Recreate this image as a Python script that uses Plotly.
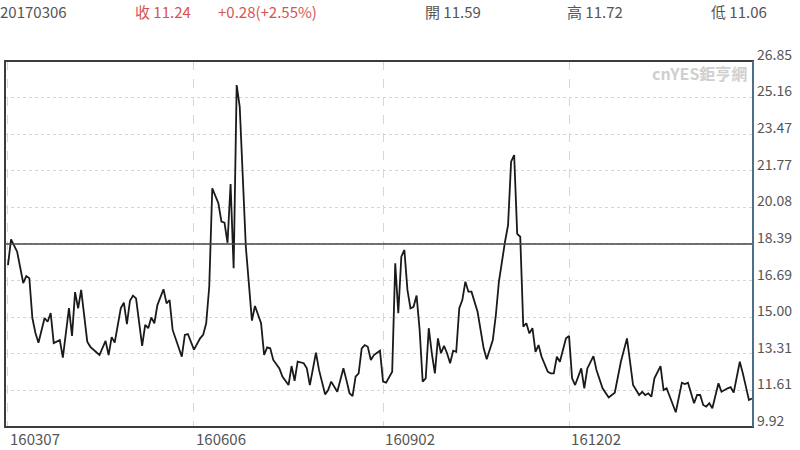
import plotly.graph_objects as go

# ---- data (trading-day index since 2016-03-07, value) ----
days = [0, 1, 3, 5, 6, 7, 8, 9, 10, 12, 13, 14, 15, 17, 18, 20, 21, 22, 23, 24, 26, 27, 30, 32, 33, 34, 35,
        37, 38, 39, 40, 41, 42, 43, 44, 45, 46, 47, 48, 49, 51, 52, 53, 54, 57, 58, 59, 61, 63, 64, 65, 66,
        67, 69, 70, 71, 72, 73, 74, 75, 76, 78, 79, 80, 81, 83, 84, 85, 86, 87, 89, 90, 92, 93, 94, 95, 97,
        98, 99, 101, 102, 104, 105, 106, 108, 110, 111, 112, 113, 114, 115, 116, 117, 118, 119, 120, 122,
        123, 124, 126, 127, 128, 129, 130, 131, 132, 133, 134, 135, 136, 137, 138, 139, 140, 141, 142, 143,
        144, 145, 146, 147, 148, 149, 150, 151, 152, 154, 155, 156, 157, 159, 160, 161, 163, 164, 165, 166,
        167, 168, 169, 170, 171, 172, 173, 174, 175, 177, 178, 179, 180, 181, 183, 184, 185, 186, 188, 189,
        190, 192, 193, 195, 197, 199, 201, 203, 204, 205, 207, 208, 209, 210, 211, 212, 214, 215, 216, 217,
        219, 221, 222, 223, 225, 226, 227, 228, 229, 230, 231, 233, 234, 236, 237, 238, 240, 241, 243, 244]
values = [17.41, 18.60, 18.03, 16.58, 16.90, 16.80, 14.96, 14.27, 13.82, 14.96, 14.79, 15.19, 13.80, 13.94,
          13.13, 15.42, 14.13, 16.16, 15.41, 16.26, 13.87, 13.63, 13.25, 13.90, 13.25, 14.08, 13.82,
          15.42, 15.67, 14.68, 15.76, 16.00, 15.87, 14.72, 13.67, 14.64, 14.49, 14.99, 14.72, 15.56, 16.29,
          15.64, 15.79, 14.41, 13.17, 14.18, 14.22, 13.50, 14.02, 14.18, 14.72, 16.41,
          20.96, 20.27, 19.42, 19.37, 18.44, 21.16, 17.26, 25.74, 24.73, 18.26, 16.41, 14.84, 15.52, 14.72,
          13.25, 13.60, 13.56, 13.02, 12.63, 12.25, 11.86, 12.74, 12.06, 12.94, 12.87,
          12.63, 11.86, 13.36, 12.56, 11.43, 11.63, 12.02, 11.55, 12.64, 12.09, 11.48, 11.35, 12.25, 12.40,
          13.56, 13.71, 13.63, 13.02, 13.25, 13.45,
          12.02, 11.97, 12.48, 17.49, 15.18, 17.80, 18.11, 16.26, 15.41, 15.48, 16.00, 14.41, 12.02, 12.17,
          14.49, 13.33, 12.40, 14.02, 13.33, 13.67,
          13.33, 12.87, 13.45, 13.40, 15.41, 15.79, 16.64, 16.18, 16.18, 15.25, 14.33, 13.56, 13.05, 13.94,
          15.10, 16.64, 18.49, 19.26, 22.19, 22.50,
          18.85, 18.72, 14.56, 14.72, 14.25, 14.49, 13.40, 13.71, 13.17, 12.48, 12.40, 12.40, 13.17, 12.94,
          14.02, 14.13, 12.17, 11.86, 12.63, 11.71,
          12.63, 13.20, 12.56, 11.71, 11.29, 11.51, 12.94, 14.02, 12.94, 11.86, 11.40, 11.55, 11.40, 11.48,
          11.32, 12.17, 12.74, 11.63, 11.71, 11.32,
          10.60, 11.97, 11.91, 11.97, 11.02, 11.40, 11.40, 10.94, 10.86, 11.02, 10.79, 11.94, 11.55, 11.71,
          11.76, 11.51, 12.94, 12.40, 11.17, 11.24]

x_tick_days = [0, 61, 123, 184]
x_tick_labels = ["160307", "160606", "160902", "161202"]

y_tick_vals = [9.92, 11.61, 13.31, 15.00, 16.69, 18.39, 20.08, 21.77, 23.47, 25.16, 26.85]
y_tick_labels = ["9.92", "11.61", "13.31", "15.00", "16.69", "18.39", "20.08", "21.77", "23.47", "25.16", "26.85"]

ref_level = 18.39

header_date = "20170306"
header_close = "收 11.24"
header_change = "+0.28(+2.55%)"
header_open = "開 11.59"
header_high = "高 11.72"
header_low = "低 11.06"

FONT = "Noto Sans CJK TC"
GRAY = "#555555"
RED = "#d9534f"

fig = go.Figure()
fig.add_trace(go.Scatter(x=days, y=values, mode="lines",
                         line=dict(color="#1a1a1a", width=1.8), hoverinfo="skip", showlegend=False))

W_PLOT = 748.0  # plot area width in px (for header placement)
def px(xp):
    return (xp - 5) / W_PLOT

def hdr(text, xp, color):
    fig.add_annotation(text=text, xref="paper", yref="paper", x=px(xp), y=(427 - 12) / 366.0,
                       xanchor="left", yanchor="middle", showarrow=False,
                       font=dict(family=FONT, size=15, color=color))

hdr(header_date, -2, GRAY)
hdr(header_close, 133, RED)
hdr(header_change, 216, RED)
hdr(header_open, 423, GRAY)
hdr(header_high, 565, GRAY)
hdr(header_low, 709, GRAY)

# watermark
fig.add_annotation(text="<b>cnYES鉅亨網</b>", xref="paper", yref="paper", x=px(749), y=(427 - 73) / 366.0,
                   xanchor="right", yanchor="middle", showarrow=False,
                   font=dict(family=FONT, size=16, color="#cfcfcf"))

# reference level line
fig.add_shape(type="line", xref="paper", yref="y", x0=0, x1=1, y0=ref_level, y1=ref_level,
              line=dict(color="#444444", width=1.5))
# frame
fig.add_shape(type="rect", xref="paper", yref="paper", x0=0, x1=1, y0=0, y1=1,
              line=dict(color="#3c3c3c", width=2))
fig.add_shape(type="line", xref="paper", yref="paper", x0=1, x1=1, y0=0, y1=1,
              line=dict(color="#4d6f88", width=2))

fig.update_xaxes(range=[-0.98, 244.33], tickmode="array", tickvals=x_tick_days, ticktext=x_tick_labels,
                 showgrid=True, gridcolor="#d6d6d6", griddash="dash", gridwidth=1,
                 zeroline=False, showline=False, ticks="",
                 tickfont=dict(family=FONT, size=15, color=GRAY),
                 ticklabelshift=27, ticklabelstandoff=2)
fig.update_yaxes(range=[9.92, 26.85], side="right", tickmode="array", tickvals=y_tick_vals,
                 ticktext=y_tick_labels, showgrid=True, gridcolor="#d6d6d6", griddash="dot", gridwidth=1,
                 zeroline=False, showline=False, ticks="",
                 tickfont=dict(family=FONT, size=14, color=GRAY),
                 ticklabelshift=-6, ticklabelstandoff=3)

fig.update_layout(width=800, height=450, margin=dict(l=5, r=47, t=61, b=23, autoexpand=False),
                  paper_bgcolor="white", plot_bgcolor="white", showlegend=False)

fig.write_html("out.html", config={"displayModeBar": False},
               post_script="document.body.style.margin='0';document.body.style.overflow='hidden';")
